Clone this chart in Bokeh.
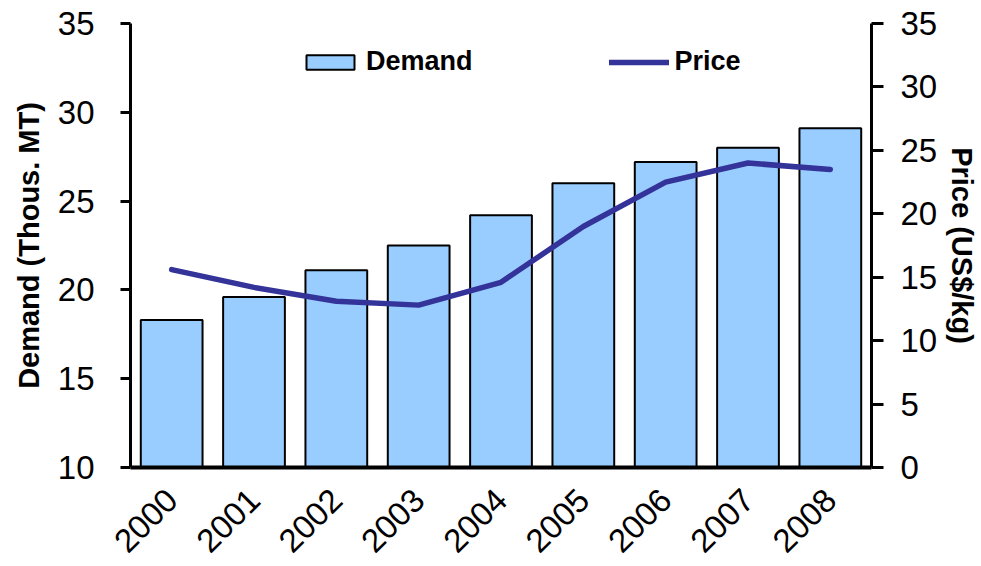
from bokeh.plotting import figure
from bokeh.models import ColumnDataSource, FactorRange, Range1d, LinearAxis, FixedTicker, Legend, LegendItem
from bokeh.embed import file_html
from bokeh.resources import INLINE
import math

years = ["2000", "2001", "2002", "2003", "2004", "2005", "2006", "2007", "2008"]
demand = [18.3, 19.6, 21.1, 22.5, 24.2, 26.0, 27.2, 28.0, 29.1]
price = [15.6, 14.2, 13.1, 12.8, 14.6, 19.0, 22.5, 24.0, 23.5]
left_ticks = [10, 15, 20, 25, 30, 35]
right_ticks = [0, 5, 10, 15, 20, 25, 30, 35]
left_title = "Demand (Thous. MT)"
right_title = "Price (US$/kg)"

src = ColumnDataSource(dict(year=years, demand=demand, price=price))

FONT = "Liberation Sans"

p = figure(width=981, height=566, x_range=FactorRange(*years, range_padding=0),
           y_range=Range1d(10, 35), output_backend="svg", toolbar_location=None,
           min_border_left=130, min_border_right=110, min_border_top=23, min_border_bottom=99)
p.extra_y_ranges = {"price": Range1d(0, 35)}
p.outline_line_color = None
p.grid.visible = False
p.background_fill_color = "white"
p.border_fill_color = "white"

bars = p.vbar(x="year", top="demand", bottom=10, width=0.75, source=src,
              fill_color="#99CCFF", line_color="black", line_width=2)
line = p.line(x="year", y="price", source=src, y_range_name="price",
              line_color="#333399", line_width=5.5, line_join="round", line_cap="round")

# left axis
ly = p.yaxis[0]
ly.ticker = FixedTicker(ticks=left_ticks)
ly.minor_tick_line_color = None
ly.major_tick_out = 10
ly.major_tick_in = 0
ly.major_tick_line_width = 3
ly.axis_line_width = 3
ly.major_label_text_font = FONT
ly.major_label_text_font_size = "33px"
ly.major_label_text_color = "black"
ly.major_label_standoff = 26
ly.axis_label = left_title
ly.axis_label_text_font = FONT
ly.axis_label_text_font_size = "29px"
ly.axis_label_text_font_style = "bold"
ly.axis_label_text_color = "black"
ly.axis_label_standoff = 10

# right axis
ry = LinearAxis(y_range_name="price", ticker=FixedTicker(ticks=right_ticks))
ry.minor_tick_line_color = None
ry.major_tick_out = 12
ry.major_tick_in = 0
ry.major_tick_line_width = 3
ry.axis_line_width = 3
ry.major_label_text_font = FONT
ry.major_label_text_font_size = "33px"
ry.major_label_text_color = "black"
ry.major_label_standoff = 17
ry.axis_label = right_title
ry.axis_label_text_font = FONT
ry.axis_label_text_font_size = "29px"
ry.axis_label_text_font_style = "bold"
ry.axis_label_text_color = "black"
ry.axis_label_standoff = 6
p.add_layout(ry, "right")

# x axis
xa = p.xaxis[0]
xa.major_tick_line_color = None
xa.minor_tick_line_color = None
xa.axis_line_width = 4
xa.major_label_orientation = math.pi / 4
xa.major_label_text_font = FONT
xa.major_label_text_font_size = "33px"
xa.major_label_text_color = "black"
xa.major_label_standoff = 21

legend = Legend(items=[LegendItem(label="Demand", renderers=[bars]),
                       LegendItem(label="Price", renderers=[line])],
                orientation="horizontal", location=(170, 390),
                label_text_font=FONT, label_text_font_size="27px",
                label_text_font_style="bold", label_text_color="black",
                glyph_width=60, glyph_height=18, label_standoff=6, spacing=136,
                padding=0, margin=0, border_line_color=None,
                background_fill_alpha=0)
p.add_layout(legend)

open("out.html", "w").write(file_html(p, INLINE))
